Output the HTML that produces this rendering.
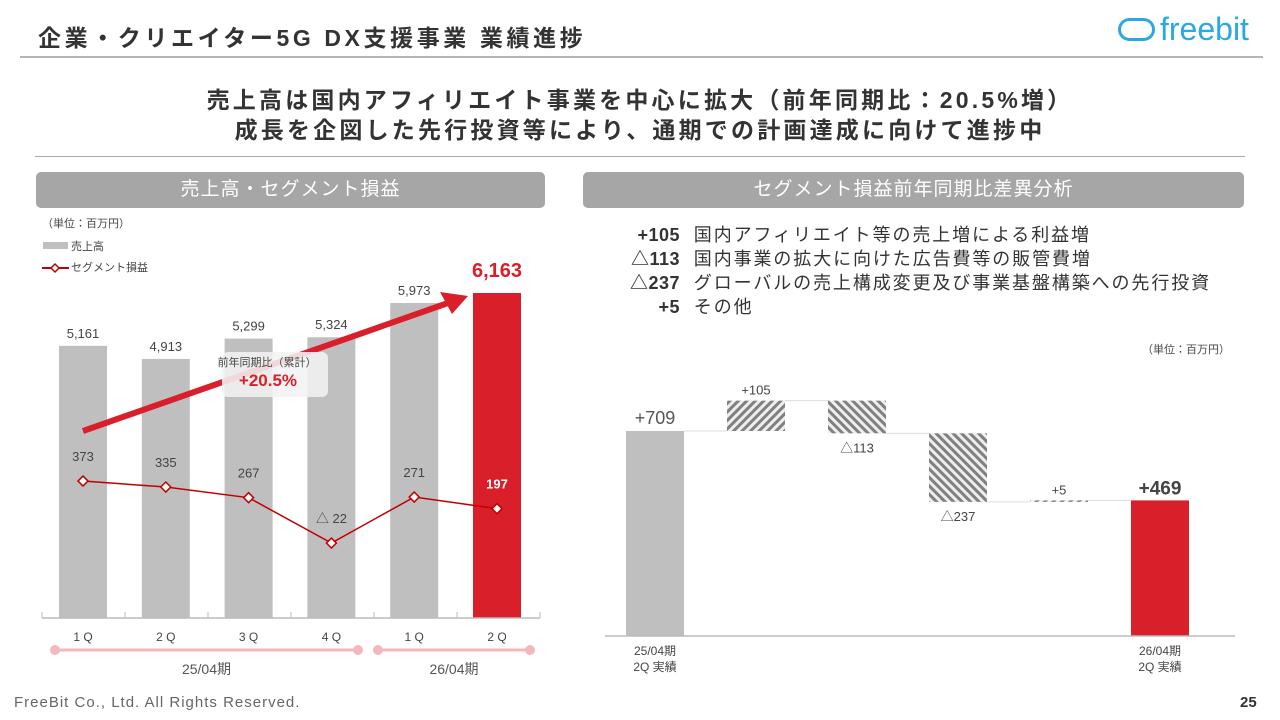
<!DOCTYPE html>
<html><head><meta charset="utf-8"><style>
body{margin:0;width:1280px;height:720px;background:#fff;font-family:"Liberation Sans","Noto Sans CJK JP",sans-serif;color:#333;position:relative;overflow:hidden}
.a{position:absolute;white-space:nowrap}
</style></head><body>
<div class="a" style="left:38px;top:19px;font-size:23px;letter-spacing:3.6px;font-weight:bold;color:#333">企業・クリエイター5G DX支援事業 業績進捗</div>
<div class="a" style="left:1118px;top:11px;font-size:32px;color:#29a9e0;display:flex;align-items:center"><span style="display:inline-block;width:37px;height:23px;border:3px solid #29a9e0;border-radius:12px;margin-right:5px;box-sizing:border-box"></span>freebit</div>
<div class="a" style="left:20px;top:56px;width:1243px;height:2px;background:#b5b5b5"></div>
<div class="a" style="left:0;width:1280px;top:85px;text-align:center;font-size:23px;letter-spacing:3.2px;font-weight:bold;line-height:30px;color:#333">売上高は国内アフィリエイト事業を中心に拡大（前年同期比：20.5%増）<br>成長を企図した先行投資等により、通期での計画達成に向けて進捗中</div>
<div class="a" style="left:35px;top:156px;width:1210px;height:1px;background:#aaa"></div>
<div class="a" style="left:36px;top:172px;width:509px;height:36px;background:#a6a6a6;border-radius:5px;color:#fff;font-size:19px;letter-spacing:1px;line-height:36px;text-align:center">売上高・セグメント損益</div>
<div class="a" style="left:583px;top:172px;width:661px;height:36px;background:#a6a6a6;border-radius:5px;color:#fff;font-size:19px;letter-spacing:1px;line-height:36px;text-align:center">セグメント損益前年同期比差異分析</div>
<div class="a" style="left:600px;top:223px;font-size:18px;line-height:24px;letter-spacing:1.9px">
<div><span style="display:inline-block;width:80px;text-align:right;font-weight:bold;letter-spacing:0.5px">+105</span>&nbsp; 国内アフィリエイト等の売上増による利益増</div>
<div><span style="display:inline-block;width:80px;text-align:right;font-weight:bold;letter-spacing:0.5px">△113</span>&nbsp; 国内事業の拡大に向けた広告費等の販管費増</div>
<div><span style="display:inline-block;width:80px;text-align:right;font-weight:bold;letter-spacing:0.5px">△237</span>&nbsp; グローバルの売上構成変更及び事業基盤構築への先行投資</div>
<div><span style="display:inline-block;width:80px;text-align:right;font-weight:bold;letter-spacing:0.5px">+5</span>&nbsp; その他</div>
</div>
<div class="a" style="left:14px;top:694px;font-size:15px;letter-spacing:1px;color:#666">FreeBit Co., Ltd. All Rights Reserved.</div>
<div class="a" style="left:1240px;top:694px;font-size:15px;font-weight:bold;color:#333">25</div>

<svg class="a" style="left:0;top:0" width="1280" height="720" id="svg"></svg>
<script>
const cats=["1Q","2Q","3Q","4Q","1Q","2Q"];
const sales=[5161,4913,5299,5324,5973,6163];
const salesLabels=["5,161","4,913","5,299","5,324","5,973","6,163"];
const profit=[373,335,267,-22,271,197];
const profitLabels=["373","335","267","△ 22","271","197"];
const wfCats=["25/04期\n2Q 実績","","","","","26/04期\n2Q 実績"];
const wfDeltas=[709,105,-113,-237,5,469];
const wfLabels=["+709","+105","△113","△237","+5","+469"];
const NS="http://www.w3.org/2000/svg";
const svg=document.getElementById('svg');
function mk(t,a,p){const e=document.createElementNS(NS,t);for(const k in a)e.setAttribute(k,a[k]);(p||svg).appendChild(e);return e;}
const defs=mk('defs',{});
defs.innerHTML='<pattern id="hU" width="6" height="6" patternUnits="userSpaceOnUse" patternTransform="rotate(45)"><rect width="6" height="6" fill="#eee"/><rect width="3" height="6" fill="#808080"/></pattern><pattern id="hD" width="6" height="6" patternUnits="userSpaceOnUse" patternTransform="rotate(-45)"><rect width="6" height="6" fill="#eee"/><rect width="3" height="6" fill="#808080"/></pattern>';
const base=618,sK=325/6163;
const xc=i=>83+i*82.8;
const ys=v=>base-v*sK;
const yp=v=>539.6-v*0.157;
function txt(x,y,s,o){const t=mk('text',Object.assign({x:x,y:y,'text-anchor':'middle','font-size':13,fill:'#444'},o||{}));t.textContent=s;return t;}
let t=txt(42,227,'（単位：百万円）',{'text-anchor':'start','font-size':11});
let lg=mk('rect',{x:43,y:242,width:25,height:7,fill:'#bfbfbf'});
t=txt(71,250,'売上高',{'text-anchor':'start','font-size':11});
lg=mk('path',{d:'M42 268H69',stroke:'#c00000','stroke-width':2});
mk('path',{d:'M55 264L59 268L55 272L51 268Z',fill:'#fff',stroke:'#c00000','stroke-width':1.5});
t=txt(71,271,'セグメント損益',{'text-anchor':'start','font-size':11});
sales.forEach((v,i)=>{const last=i===sales.length-1;
 const r=mk('rect',{x:xc(i)-24,y:ys(v),width:48,height:base-ys(v),fill:last?'#d9202a':'#bfbfbf'});
 
 const l=txt(xc(i),ys(v)-(last?16:8),salesLabels[i],last?{'font-size':20,'font-weight':'bold',fill:'#d9202a'}:{});
 
 const c=txt(xc(i),641,cats[i].split('').join(' '),{'font-size':12});
});
let ax=mk('path',{d:'M42 618H540',stroke:'#bbb','stroke-width':1.5});
for(let i=0;i<=6;i++){mk('path',{d:`M${42+i*83} 612V618`,stroke:'#bbb'});}
let ar=mk('path',{d:'M83 431L448 303',stroke:'#d9202a','stroke-width':6});
mk('path',{d:'M468 296L440 292L452 314Z',fill:'#d9202a'});
let bx=mk('rect',{x:222,y:352,width:106,height:45,rx:6,fill:'#f3f3f3','fill-opacity':0.88});
txt(267,366,'前年同期比（累計）',{'font-size':11});
txt(268,386,'+20.5%',{'font-size':17,'font-weight':'bold',fill:'#d9202a'});
let pts=profit.map((v,i)=>xc(i)+','+yp(v)).join(' ');
let pl=mk('polyline',{points:pts,fill:'none',stroke:'#c00000','stroke-width':1.5});
profit.forEach((v,i)=>{const last=i===profit.length-1,x=xc(i),y=yp(v);
 const d=mk('path',{d:`M${x} ${y-5}L${x+5} ${y}L${x} ${y+5}L${x-5} ${y}Z`,fill:'#fff',stroke:'#c00000','stroke-width':1.5});
 
 const l=txt(x,y-20,profitLabels[i],last?{fill:'#fff','font-weight':'bold'}:{});
 
});
[[55,358,'25/04期'],[378,530,'26/04期']].forEach((p,i)=>{
 const g=mk('path',{d:`M${p[0]} 650H${p[1]}`,stroke:'#f2b8bd','stroke-width':3});
 mk('circle',{cx:p[0],cy:650,r:5,fill:'#f2b8bd'});mk('circle',{cx:p[1],cy:650,r:5,fill:'#f2b8bd'});
 const l=txt((p[0]+p[1])/2,674,p[2],{'font-size':14,fill:'#555'});
});
t=txt(1230,353,'（単位：百万円）',{'text-anchor':'end','font-size':11});
const wb=636,wk=205/709,wx=i=>655+i*101;const wy=v=>wb-v*wk;
let run=0;
wfDeltas.forEach((d,i)=>{const last=i===wfDeltas.length-1;let y0,y1,fill;
 if(i===0){y0=0;y1=d;run=d;fill='#bfbfbf';}
 else if(last){y0=0;y1=d;fill='#d9202a';}
 else{y0=run;y1=run+d;run=y1;fill=d>=0?'url(#hU)':'url(#hD)';}
 const top=wy(Math.max(y0,y1)),bot=wy(Math.min(y0,y1));
 const r=mk('rect',{x:wx(i)-29,y:top,width:58,height:Math.max(bot-top,1.5),fill:fill});
 
 if(!last){const cy=wy(i===0?d:run);mk('path',{d:`M${wx(i)+29} ${cy}H${wx(i+1)-29}`,stroke:'#ddd'});}
 let ly,o={};
 if(i===0){ly=top-7;o={'font-size':18,fill:'#555'};}
 else if(last){ly=top-6;o={'font-size':19,'font-weight':'bold',fill:'#444'};}
 else if(d>=0){ly=top-6;o={'font-size':13};}
 else{ly=bot+19;o={'font-size':13};}
 const l=txt(wx(i),ly,wfLabels[i],o);
 if(wfCats[i]){wfCats[i].split('\n').forEach((s,k)=>{const c=txt(wx(i),655+k*16,s,{'font-size':12});});}
});
ax=mk('path',{d:'M605 636H1235',stroke:'#bbb','stroke-width':1.5});
</script>
</body></html>
